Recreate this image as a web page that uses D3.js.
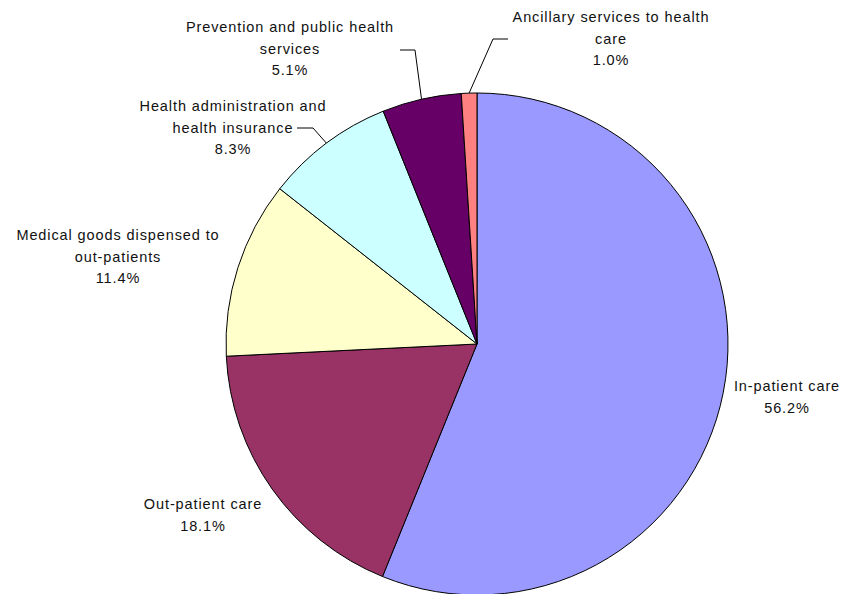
<!DOCTYPE html>
<html>
<head>
<meta charset="utf-8">
<script src="https://cdn.jsdelivr.net/npm/d3@7/dist/d3.min.js"></script>
<style>
  html, body { margin: 0; padding: 0; background: #fff; }
  svg { display: block; }
  text { font-family: "Liberation Sans", Arial, sans-serif; font-size: 14.5px; letter-spacing: 0.9px; fill: #111; }
</style>
</head>
<body>
<svg id="chart" width="842" height="594"></svg>
<script>
// Health expenditure by function (share of total, %)
const categories = [
  "In-patient care",
  "Out-patient care",
  "Medical goods dispensed to out-patients",
  "Health administration and health insurance",
  "Prevention and public health services",
  "Ancillary services to health care"
];
const values = [56.2, 18.1, 11.4, 8.3, 5.1, 1.0];
const colors = ["#9999FF", "#993366", "#FFFFCC", "#CCFFFF", "#660066", "#FF8080"];

// Label text broken into lines as displayed
const labelLines = [
  ["In-patient care"],
  ["Out-patient care"],
  ["Medical goods dispensed to", "out-patients"],
  ["Health administration and", "health insurance"],
  ["Prevention and public health", "services"],
  ["Ancillary services to health", "care"]
];

// Label placement: centre x, first baseline y; leader: elbow and end point (null = no leader)
const labelLayout = [
  { x: 787, y: 391, leader: null },
  { x: 203, y: 509, leader: null },
  { x: 118, y: 240, leader: null },
  { x: 233, y: 111, leader: { elbow: [313, 128], end: [297, 128] } },
  { x: 290, y: 32,  leader: { elbow: [415, 50],  end: [400, 50] } },
  { x: 611, y: 22,  leader: { elbow: [493, 39],  end: [508, 39] } }
];

const cx = 477, cy = 344, radius = 251, lineGap = 21.7;

const svg = d3.select("#chart");
const g = svg.append("g").attr("transform", `translate(${cx},${cy})`);

const data = categories.map((c, i) => ({ name: c, value: values[i], i }));
const pie = d3.pie().sort(null).value(d => d.value);
const arcs = pie(data);
const arc = d3.arc().innerRadius(0).outerRadius(radius);

g.selectAll("path.slice")
  .data(arcs)
  .join("path")
  .attr("class", "slice")
  .attr("d", arc)
  .attr("fill", d => colors[d.data.i])
  .attr("stroke", "#000")
  .attr("stroke-width", 1)
  .attr("stroke-linejoin", "round");

// Leader lines from slice edge midpoints
arcs.forEach(a => {
  const lay = labelLayout[a.data.i];
  if (!lay.leader) return;
  const mid = (a.startAngle + a.endAngle) / 2;
  const px = cx + radius * Math.sin(mid);
  const py = cy - radius * Math.cos(mid);
  svg.append("polyline")
    .attr("points", [[px, py], lay.leader.elbow, lay.leader.end].map(p => p.join(",")).join(" "))
    .attr("fill", "none")
    .attr("stroke", "#000")
    .attr("stroke-width", 1);
});

// Labels: category name lines followed by percentage
arcs.forEach(a => {
  const i = a.data.i;
  const lay = labelLayout[i];
  const lines = labelLines[i].concat([d3.format(".1f")(values[i]) + "%"]);
  const t = svg.append("text")
    .attr("text-anchor", "middle")
    .attr("x", lay.x)
    .attr("y", lay.y);
  lines.forEach((ln, k) => {
    t.append("tspan")
      .attr("x", lay.x)
      .attr("y", lay.y + k * lineGap)
      .text(ln);
  });
});
</script>
</body>
</html>
